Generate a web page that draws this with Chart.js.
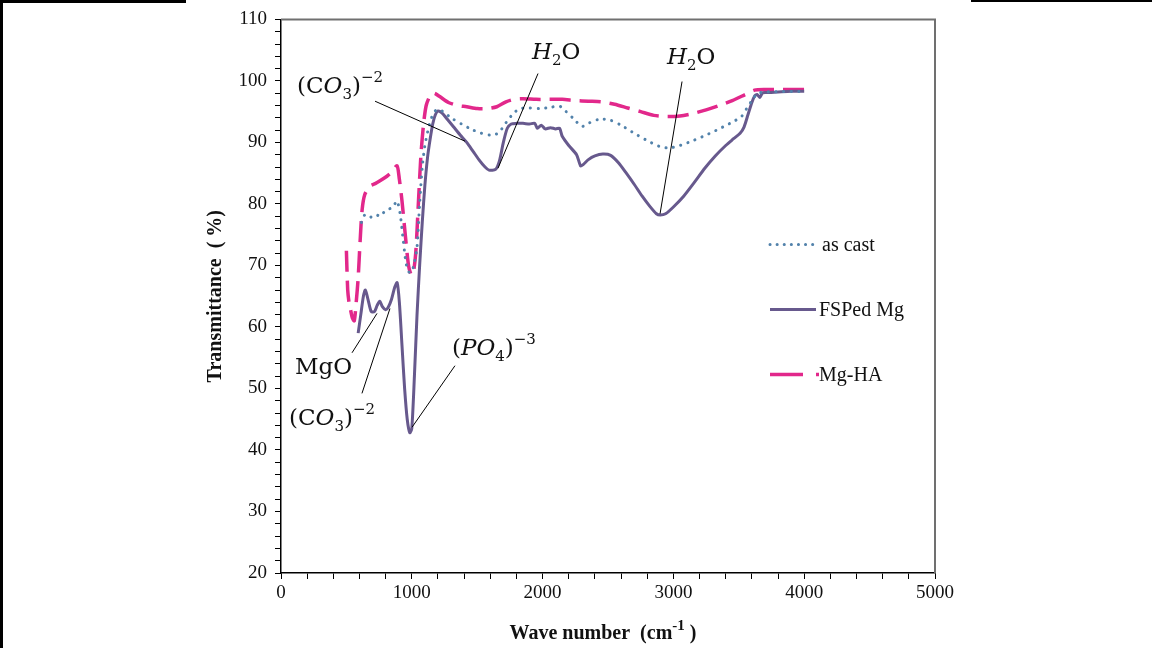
<!DOCTYPE html>
<html>
<head>
<meta charset="utf-8">
<title>FTIR transmittance</title>
<script src="https://cdn.jsdelivr.net/npm/chart.js@4.4.1/dist/chart.umd.min.js"></script>
<style>
  html, body { margin: 0; padding: 0; background: #fff; }
  #wrap { position: relative; width: 1152px; height: 648px; overflow: hidden; }
  #ftir { position: absolute; left: 0; top: 0; }
  .rule { position: absolute; background: #000; }
</style>
</head>
<body>
<div id="wrap">
  <canvas id="ftir" width="1152" height="648"></canvas>
  <div class="rule" style="left:0;top:0;width:3px;height:648px"></div>
  <div class="rule" style="left:0;top:0;width:186px;height:3px"></div>
  <div class="rule" style="left:971px;top:0;width:181px;height:2px"></div>
</div>
<script>
// wave number (cm-1) and transmittance (%) for each sample
const castWave = [615, 640, 680, 720, 760, 800, 840, 870, 888, 910, 935, 955, 975, 995, 1015, 1040, 1060, 1080, 1100, 1130, 1160, 1195, 1240, 1300, 1380, 1450, 1530, 1600, 1660, 1720, 1780, 1830, 1900, 1980, 2060, 2130, 2180, 2240, 2300, 2360, 2440, 2520, 2600, 2700, 2800, 2900, 2970, 3050, 3150, 3250, 3350, 3450, 3520, 3560, 3600, 3640, 3700, 4000];
const castT    = [77.0, 78.2, 77.8, 78.3, 78.0, 79.0, 79.3, 80.0, 80.5, 78.5, 74.0, 70.5, 69.0, 68.8, 70.0, 73.0, 80.0, 86.0, 89.5, 92.5, 94.5, 95.4, 95.0, 94.0, 93.0, 92.2, 91.5, 91.2, 91.5, 93.2, 94.8, 95.5, 95.6, 95.5, 95.7, 95.9, 95.0, 93.8, 92.6, 93.2, 93.8, 93.6, 92.8, 91.5, 90.3, 89.3, 89.1, 89.5, 90.3, 91.2, 92.2, 93.3, 94.2, 95.5, 96.8, 97.9, 98.2, 98.3];

const fspWave = [590, 610, 630, 645, 665, 690, 715, 735, 755, 775, 800, 820, 845, 870, 888, 905, 925, 945, 965, 985, 1000, 1020, 1040, 1060, 1080, 1100, 1120, 1140, 1160, 1180, 1200, 1230, 1270, 1320, 1370, 1420, 1470, 1520, 1560, 1590, 1640, 1670, 1700, 1730, 1760, 1800, 1850, 1900, 1940, 1960, 1990, 2020, 2060, 2100, 2130, 2150, 2200, 2260, 2290, 2310, 2350, 2400, 2460, 2520, 2580, 2640, 2700, 2760, 2820, 2870, 2900, 2940, 3000, 3080, 3160, 3240, 3320, 3400, 3460, 3510, 3540, 3570, 3600, 3620, 3640, 3660, 3680, 3700, 3800, 3900, 4000];
const fspT    = [59.0, 62.0, 65.0, 66.0, 64.5, 62.5, 62.5, 63.5, 64.2, 63.3, 62.8, 63.2, 64.5, 66.5, 67.2, 64.0, 57.0, 50.0, 45.0, 42.8, 43.5, 52.0, 62.0, 70.0, 77.0, 83.0, 87.5, 90.5, 93.0, 94.5, 95.1, 94.8, 93.8, 92.5, 91.2, 90.0, 88.5, 87.0, 86.0, 85.5, 85.6, 87.0, 90.0, 92.3, 93.0, 93.1, 93.1, 93.0, 93.1, 92.3, 92.8, 92.2, 92.4, 92.2, 92.3, 91.0, 89.5, 88.0, 86.2, 86.4, 87.2, 87.8, 88.1, 87.9, 86.7, 85.0, 83.2, 81.3, 79.6, 78.4, 78.2, 78.4, 79.5, 81.3, 83.5, 85.8, 87.8, 89.5, 90.6, 91.5, 92.5, 94.5, 96.5, 97.5, 97.8, 97.3, 98.0, 98.1, 98.2, 98.3, 98.3];

const haWave = [500, 510, 520, 530, 545, 560, 575, 590, 605, 620, 640, 680, 720, 760, 810, 850, 887, 905, 925, 950, 975, 995, 1010, 1030, 1050, 1070, 1090, 1110, 1140, 1170, 1210, 1280, 1350, 1420, 1500, 1580, 1650, 1720, 1780, 1850, 1950, 2050, 2150, 2250, 2350, 2450, 2550, 2650, 2750, 2850, 2950, 3050, 3150, 3250, 3350, 3450, 3550, 3620, 3700, 4000];
const haT    = [72.4, 66.0, 64.0, 63.0, 61.5, 61.0, 64.0, 68.0, 74.0, 79.0, 81.5, 82.9, 83.3, 83.8, 84.5, 85.2, 86.2, 84.0, 80.5, 75.0, 70.0, 68.5, 68.6, 72.0, 80.0, 88.0, 93.0, 96.0, 97.6, 98.0, 97.5, 96.5, 96.0, 95.8, 95.5, 95.5, 95.8, 96.6, 97.0, 97.1, 97.0, 97.0, 97.0, 96.8, 96.7, 96.6, 96.2, 95.6, 95.0, 94.4, 94.2, 94.3, 94.7, 95.3, 96.0, 96.8, 97.8, 98.5, 98.6, 98.6];

const seriesNames = ['as cast', 'FSPed Mg', 'Mg-HA'];

// band assignments: text anchor (left, baseline) and leader line, in axis units
const bandText = [
  [['(C', 'n'], ['O', 'i'], ['3', 'sub'], [')', 'n'], ['\u22122', 'sup']],
  [['H', 'i'], ['2', 'sub'], ['O', 'n']],
  [['H', 'i'], ['2', 'sub'], ['O', 'n']],
  [['MgO', 'n']],
  [['(C', 'n'], ['O', 'i'], ['3', 'sub'], [')', 'n'], ['\u22122', 'sup']],
  [['(', 'n'], ['PO', 'i'], ['4', 'sub'], [')', 'n'], ['\u22123', 'sup']]
];
const bandAt   = [[122, 98.0], [1919, 103.5], [2951, 102.7], [107, 52.4], [61, 44.0], [1307, 55.4]];
const bandFrom = [[719, 96.7], [1965, 101.2], [3066, 99.9], [543, 55.8], [619, 49.2], [1330, 53.7]];
const bandTo   = [[1407, 90.2], [1659, 85.8], [2898, 78.4], [734, 62.2], [833, 63.0], [1002, 43.7]];

const xTicks = [0, 1000, 2000, 3000, 4000, 5000];
const yTicks = [20, 30, 40, 50, 60, 70, 80, 90, 100, 110];

function pairs(xs, ys) {
  return xs.map((v, i) => ({ x: v, y: ys[i] }));
}

const lineStyles = [
  { color: '#5282ab', width: 3, dash: [0.1, 7.5], cap: 'round' },
  { color: '#67598d', width: 3, dash: [], cap: 'butt' },
  { color: '#e2288b', width: 3.5, dash: [21, 9], cap: 'butt' }
];

const serif = '"Liberation Serif", "Times New Roman", serif';
const mathFont = '"DejaVu Serif", serif';

function drawRuns(ctx, runs, x, y) {
  ctx.textBaseline = 'alphabetic';
  ctx.textAlign = 'left';
  runs.forEach(([t, kind]) => {
    let dy = 0;
    if (kind === 'i') ctx.font = 'italic 23px ' + mathFont;
    else if (kind === 'sub') { ctx.font = '15px ' + mathFont; dy = 6; }
    else if (kind === 'sup') { ctx.font = '15px ' + mathFont; dy = -11; }
    else ctx.font = '23px ' + mathFont;
    ctx.fillText(t, x, y + dy);
    x += ctx.measureText(t).width;
  });
}

const decor = {
  id: 'decor',
  afterDraw(chart) {
    const { ctx, chartArea: a, scales: { x, y } } = chart;
    ctx.save();

    // top and right edges of the plot box
    ctx.strokeStyle = '#707070';
    ctx.lineWidth = 2;
    ctx.beginPath();
    ctx.moveTo(a.left, a.top);
    ctx.lineTo(a.right, a.top);
    ctx.lineTo(a.right, a.bottom);
    ctx.stroke();

    // band labels with leader lines
    ctx.strokeStyle = '#000';
    ctx.lineWidth = 1;
    ctx.fillStyle = '#111';
    bandText.forEach((runs, i) => {
      ctx.beginPath();
      ctx.moveTo(x.getPixelForValue(bandFrom[i][0]), y.getPixelForValue(bandFrom[i][1]));
      ctx.lineTo(x.getPixelForValue(bandTo[i][0]), y.getPixelForValue(bandTo[i][1]));
      ctx.stroke();
      drawRuns(ctx, runs, x.getPixelForValue(bandAt[i][0]), y.getPixelForValue(bandAt[i][1]));
    });

    // legend
    const lx = a.left + 489;
    const rowY = [a.top + 225, a.top + 290, a.top + 355];
    seriesNames.forEach((name, i) => {
      const s = lineStyles[i];
      ctx.strokeStyle = s.color;
      ctx.lineWidth = s.width;
      ctx.lineCap = s.cap;
      ctx.setLineDash(i === 2 ? [33, 13] : (i === 0 ? [0.1, 7] : s.dash));
      ctx.beginPath();
      ctx.moveTo(lx, rowY[i]);
      ctx.lineTo(lx + (i === 2 ? 49 : 46), rowY[i]);
      ctx.stroke();
      ctx.setLineDash([]);
      ctx.lineCap = 'butt';
      ctx.fillStyle = '#111';
      ctx.font = '20px ' + serif;
      ctx.textBaseline = 'middle';
      ctx.textAlign = 'left';
      ctx.fillText(name, lx + (i === 0 ? 52 : 49), rowY[i] + 1);
    });

    // axis titles
    ctx.fillStyle = '#111';
    ctx.font = 'bold 20px ' + serif;
    ctx.textBaseline = 'alphabetic';
    const xt1 = 'Wave number  (cm';
    const w1 = ctx.measureText(xt1).width;
    ctx.font = 'bold 15px ' + serif;
    const w2 = ctx.measureText('-1').width;
    ctx.font = 'bold 20px ' + serif;
    const w3 = ctx.measureText(' )').width;
    let tx = (a.left + a.right) / 2 - (w1 + w2 + w3) / 2 - 5;
    const ty = a.bottom + 66;
    ctx.fillText(xt1, tx, ty);
    ctx.font = 'bold 15px ' + serif;
    ctx.fillText('-1', tx + w1, ty - 9);
    ctx.font = 'bold 20px ' + serif;
    ctx.fillText(' )', tx + w1 + w2, ty);

    ctx.translate(a.left - 60, (a.top + a.bottom) / 2);
    ctx.rotate(-Math.PI / 2);
    ctx.textAlign = 'center';
    ctx.fillText('Transmittance  ( %)', 0, 0);
    ctx.restore();
  }
};

const datasets = [
  pairs(castWave, castT),
  pairs(fspWave, fspT),
  pairs(haWave, haT)
].map((pts, i) => ({
  label: seriesNames[i],
  data: pts,
  borderColor: lineStyles[i].color,
  borderWidth: lineStyles[i].width,
  borderDash: lineStyles[i].dash,
  borderCapStyle: lineStyles[i].cap,
  borderJoinStyle: 'round',
  pointRadius: 0,
  tension: 0.25,
  fill: false
}));

const tickFont = { family: serif, size: 19 };

new Chart(document.getElementById('ftir'), {
  type: 'line',
  data: { datasets: datasets },
  options: {
    responsive: false,
    animation: false,
    events: [],
    layout: { padding: { left: 0, top: 18, right: 217, bottom: 0 } },
    plugins: { legend: { display: false }, tooltip: { enabled: false } },
    scales: {
      x: {
        type: 'linear',
        min: xTicks[0],
        max: xTicks[xTicks.length - 1],
        afterFit: s => { s.height = 75; },
        ticks: {
          stepSize: 200,
          autoSkip: false,
          maxRotation: 0,
          padding: 3,
          color: '#111',
          font: tickFont,
          callback: v => xTicks.includes(v) ? String(v) : ''
        },
        grid: { drawOnChartArea: false, tickLength: 6, color: '#000', lineWidth: 1 },
        border: { color: '#000', width: 1.5 }
      },
      y: {
        min: yTicks[0],
        max: yTicks[yTicks.length - 1],
        afterFit: s => { s.width = 281; },
        ticks: {
          stepSize: 2,
          autoSkip: false,
          padding: 8,
          color: '#111',
          font: tickFont,
          callback: v => yTicks.includes(v) ? String(v) : ''
        },
        grid: { drawOnChartArea: false, tickLength: 6, color: '#000', lineWidth: 1 },
        border: { color: '#000', width: 1.5 }
      }
    }
  },
  plugins: [decor]
});
</script>
</body>
</html>
